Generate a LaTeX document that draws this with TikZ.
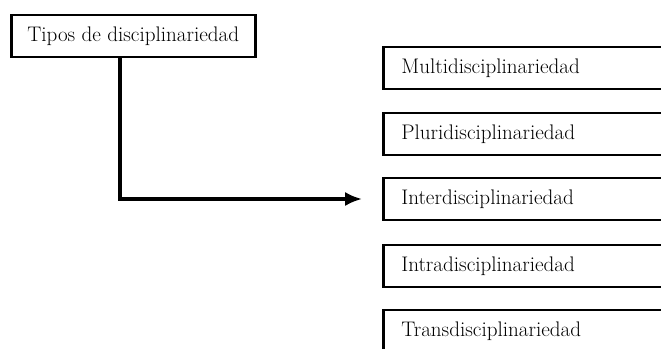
\documentclass[tikz,border=0pt]{standalone}
\usetikzlibrary{arrows.meta}

\tikzset{caja/.style={draw, line width=1.9pt, anchor=west, minimum height=1.05cm,
  inner xsep=0.45cm, font=\fontsize{15}{17}\selectfont},
  tipo/.style={caja, text width=8cm, align=left}}

\begin{document}
\begin{tikzpicture}[x=0.025cm,y=-0.025cm]
\useasboundingbox (0,0) rectangle (661,348);
\clip (0,0) rectangle (661,348);

\node [caja, inner xsep=0.4cm] (tipos) at (10,36) {Tipos de disciplinariedad};

\node [tipo] (multi) at (382,68) {Multidisciplinariedad};
\node [tipo] (pluri) at (382,134) {Pluridisciplinariedad};
\node [tipo] (inter) at (382,199) {Interdisciplinariedad};
\node [tipo] (intra) at (382,266) {Intradisciplinariedad};
\node [tipo] (trans) at (382,331) {Transdisciplinariedad};

\draw [-{Latex[length=12pt,width=10pt]}] [line width=2.2pt, shorten >=0.5cm]
  (tipos.south -| 120,0) |- (inter.west);

\end{tikzpicture}
\end{document}
